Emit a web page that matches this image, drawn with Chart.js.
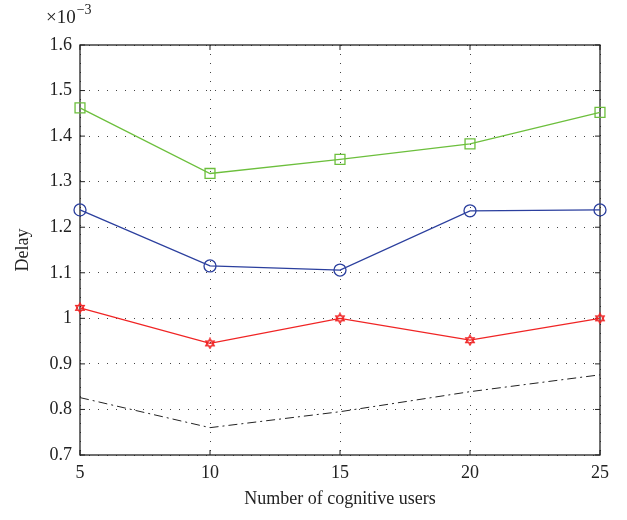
<!DOCTYPE html>
<html>
<head>
<meta charset="utf-8">
<script src="https://cdn.jsdelivr.net/npm/chart.js@4/dist/chart.umd.min.js"></script>
<style>
  html, body { margin: 0; padding: 0; background: #fff; }
  #wrap { width: 627px; height: 520px; }
</style>
</head>
<body>
<div id="wrap"><canvas id="delayChart" width="627" height="520"></canvas></div>
<script>
"use strict";

// number of cognitive users
const users = [5, 10, 15, 20, 25];
// delay values in units of 1e-3
const greenDelay = [1.462, 1.318, 1.349, 1.383, 1.452];
const blueDelay = [1.238, 1.115, 1.106, 1.236, 1.238];
const redDelay = [1.023, 0.945, 1.000, 0.952, 1.000];
const blackDelay = [0.826, 0.760, 0.795, 0.839, 0.876];
const yTicks = [0.7, 0.8, 0.9, 1, 1.1, 1.2, 1.3, 1.4, 1.5, 1.6];

const serif = "'Liberation Serif', 'DejaVu Serif', serif";

// hexagram marker for the red series
function makeHexagram(size, color) {
    const c = document.createElement("canvas");
    c.width = size;
    c.height = size;
    const g = c.getContext("2d");
    const r = size / 2 - 1;
    const cx = size / 2, cy = size / 2;
    g.strokeStyle = color;
    g.lineWidth = 1.2;
    [-Math.PI / 2, Math.PI / 2].forEach((start) => {
        g.beginPath();
        for (let i = 0; i < 3; i++) {
            const a = start + i * 2 * Math.PI / 3;
            const px = cx + r * Math.cos(a), py = cy + r * Math.sin(a);
            if (i === 0) g.moveTo(px, py); else g.lineTo(px, py);
        }
        g.closePath();
        g.stroke();
    });
    return c;
}

const toPoints = (ys) => users.map((x, i) => ({ x: x, y: ys[i] }));

// box around the plot, inward ticks and the exponent label
const matlabBox = {
    id: "matlabBox",
    beforeDatasetsDraw(chart) {
        const { ctx, chartArea: a, scales } = chart;
        ctx.save();
        ctx.strokeStyle = "#222";
        ctx.lineWidth = 1.3;
        ctx.strokeRect(a.left, a.top, a.right - a.left, a.bottom - a.top);
        ctx.lineWidth = 1;
        const t = 5;
        users.forEach((v) => {
            const px = scales.x.getPixelForValue(v);
            ctx.beginPath();
            ctx.moveTo(px, a.bottom); ctx.lineTo(px, a.bottom - t);
            ctx.moveTo(px, a.top); ctx.lineTo(px, a.top + t);
            ctx.stroke();
        });
        yTicks.forEach((v) => {
            const py = scales.y.getPixelForValue(v);
            ctx.beginPath();
            ctx.moveTo(a.left, py); ctx.lineTo(a.left + t, py);
            ctx.moveTo(a.right, py); ctx.lineTo(a.right - t, py);
            ctx.stroke();
        });
        ctx.fillStyle = "#222";
        ctx.textBaseline = "alphabetic";
        ctx.font = "19px " + serif;
        ctx.fillText("\u00d710", 46, 23);
        const w = ctx.measureText("\u00d710").width;
        ctx.font = "14px " + serif;
        ctx.fillText("\u22123", 46 + w + 1, 14);
        ctx.restore();
    }
};

const ctx = document.getElementById("delayChart").getContext("2d");
new Chart(ctx, {
    type: "line",
    data: {
        datasets: [
            {
                data: toPoints(greenDelay),
                borderColor: "#6cbf3c",
                borderWidth: 1.3,
                pointStyle: "rect",
                pointRadius: 7,
                pointBorderColor: "#6cbf3c",
                pointBackgroundColor: "rgba(0,0,0,0)",
                pointBorderWidth: 1.3,
                clip: false
            },
            {
                data: toPoints(blueDelay),
                borderColor: "#2b3f9e",
                borderWidth: 1.3,
                pointStyle: "circle",
                pointRadius: 6,
                pointBorderColor: "#2b3f9e",
                pointBackgroundColor: "rgba(0,0,0,0)",
                pointBorderWidth: 1.3,
                clip: false
            },
            {
                data: toPoints(redDelay),
                borderColor: "#f02424",
                borderWidth: 1.3,
                pointStyle: makeHexagram(12, "#f02424"),
                pointRadius: 6,
                clip: false
            },
            {
                data: toPoints(blackDelay),
                borderColor: "#222",
                borderWidth: 1,
                borderDash: [9, 4, 2, 4],
                pointRadius: 0,
                clip: false
            }
        ]
    },
    options: {
        responsive: false,
        animation: false,
        events: [],
        layout: { padding: { left: 8, right: 27, top: 45, bottom: 10 } },
        plugins: { legend: { display: false }, tooltip: { enabled: false } },
        scales: {
            x: {
                type: "linear",
                min: 5,
                max: 25,
                afterBuildTicks: (scale) => { scale.ticks = users.map((v) => ({ value: v })); },
                afterFit: (scale) => { scale.height = 55; },
                grid: { color: "#444", lineWidth: 1, drawTicks: false },
                border: { display: false, dash: [1, 8] },
                ticks: { color: "#222", font: { family: serif, size: 18 }, padding: 7, maxRotation: 0 },
                title: {
                    display: true,
                    text: "Number of cognitive users",
                    color: "#222",
                    font: { family: serif, size: 18 },
                    padding: { top: 4, bottom: 0 }
                }
            },
            y: {
                type: "linear",
                min: 0.7,
                max: 1.6,
                afterBuildTicks: (scale) => { scale.ticks = yTicks.map((v) => ({ value: v })); },
                afterFit: (scale) => { scale.width = 72; },
                grid: { color: "#444", lineWidth: 1, drawTicks: false },
                border: { display: false, dash: [1, 8] },
                ticks: {
                    color: "#222",
                    font: { family: serif, size: 18 },
                    padding: 8,
                    callback: (v) => String(Math.round(v * 10) / 10)
                },
                title: {
                    display: true,
                    text: "Delay",
                    color: "#222",
                    font: { family: serif, size: 18 },
                    padding: { bottom: 2 }
                }
            }
        }
    },
    plugins: [matlabBox]
});
</script>
</body>
</html>
